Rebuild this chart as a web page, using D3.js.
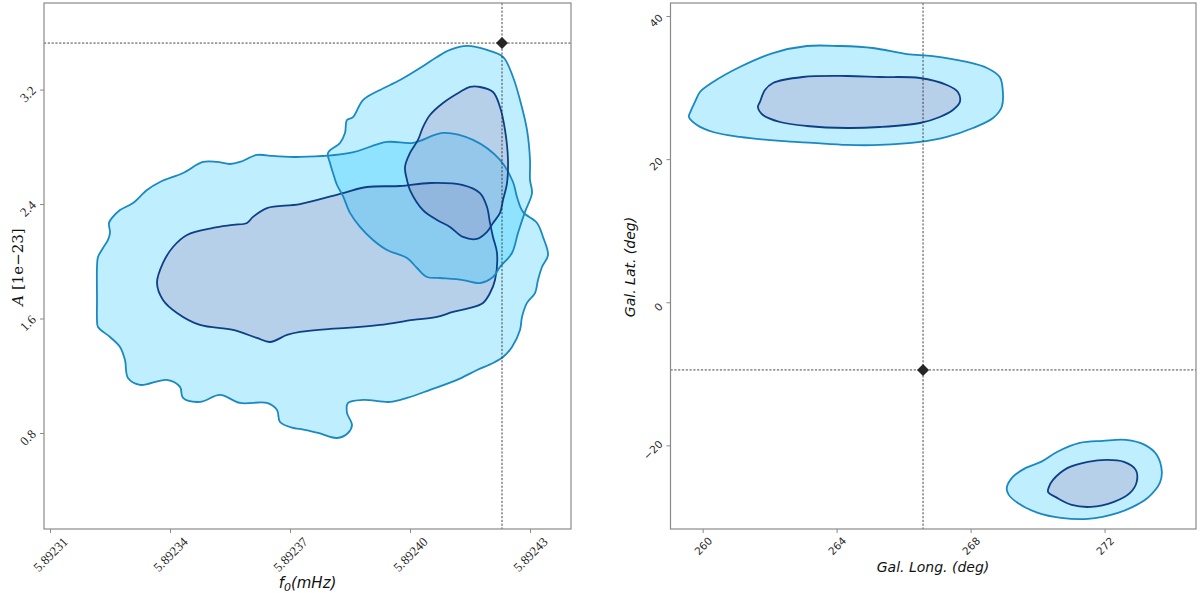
<!DOCTYPE html>
<html><head><meta charset="utf-8">
<script src="https://cdn.jsdelivr.net/npm/d3@7"></script>
<style>
html,body{margin:0;padding:0;background:#fff;}
svg{display:block;}
</style></head>
<body>
<svg id="chart" width="1200" height="593"></svg>
<script>
// ---------------- DATA ----------------
// Left panel: f0 (mHz) vs amplitude A [1e-23]
const leftXTicks = [5.89231, 5.89234, 5.89237, 5.89240, 5.89243];
const leftYTicks = [0.8, 1.6, 2.4, 3.2];
const leftTrue = [5.892423, 3.525];

const chainA_outer = [[5.89232175,1.730],[5.89232175,1.960],[5.8923220,2.030],[5.89232325,2.093],[5.8923245,2.149],[5.892325,2.198],[5.89232475,2.268],[5.8923255,2.303],[5.8923275,2.358],[5.89233075,2.407],[5.89233425,2.498],[5.8923375,2.554],[5.89234325,2.617],[5.89234825,2.694],[5.89235175,2.694],[5.892355,2.680],[5.8923575,2.694],[5.89236175,2.743],[5.89236575,2.736],[5.8923725,2.729],[5.892385,2.757],[5.89239425,2.834],[5.89240075,2.827],[5.89240825,2.897],[5.89241575,2.848],[5.8924225,2.708],[5.89242575,2.554],[5.89242675,2.449],[5.89242825,2.345],[5.89243175,2.268],[5.89243325,2.170],[5.8924345,2.044],[5.892433,1.960],[5.892432,1.869],[5.89243125,1.778],[5.89242925,1.709],[5.892428,1.611],[5.8924275,1.520],[5.8924255,1.401],[5.89242325,1.331],[5.89242075,1.289],[5.89241675,1.240],[5.89241175,1.171],[5.892405,1.101],[5.89239925,1.045],[5.892395,1.017],[5.89238825,1.031],[5.8923845,1.010],[5.89238425,0.940],[5.8923855,0.856],[5.8923845,0.800],[5.89238175,0.765],[5.892377,0.800],[5.8923725,0.828],[5.89237075,0.835],[5.8923675,0.877],[5.89236675,0.961],[5.89236425,1.010],[5.8923575,1.010],[5.8923525,1.066],[5.8923475,1.017],[5.89234325,1.045],[5.8923425,1.122],[5.89233925,1.171],[5.8923325,1.136],[5.8923295,1.184],[5.89232875,1.310],[5.8923275,1.401],[5.892325,1.471],[5.892322,1.541],[5.89232175,1.590]];

const chainA_inner = [[5.89233675,1.848],[5.89233825,1.988],[5.89234075,2.100],[5.89234425,2.184],[5.89235075,2.233],[5.89235575,2.254],[5.89235925,2.268],[5.89236075,2.310],[5.89236425,2.372],[5.8923725,2.400],[5.89238325,2.477],[5.89238925,2.519],[5.8923975,2.526],[5.892405,2.547],[5.89241325,2.533],[5.8924175,2.477],[5.89241925,2.379],[5.89242,2.268],[5.89242075,2.170],[5.89242175,2.058],[5.89242125,1.869],[5.89242,1.778],[5.89241825,1.709],[5.892415,1.674],[5.89241075,1.646],[5.89240675,1.611],[5.89240075,1.590],[5.8923925,1.555],[5.89238425,1.534],[5.89238,1.527],[5.8923725,1.506],[5.89236925,1.485],[5.892365,1.436],[5.89236175,1.464],[5.89235575,1.520],[5.8923475,1.555],[5.89234175,1.639],[5.89233825,1.730]];

const chainB_outer = [[5.89241425,3.505],[5.89241925,3.477],[5.89242325,3.428],[5.89242575,3.288],[5.8924275,3.127],[5.89242925,2.918],[5.89243,2.708],[5.89243,2.568],[5.8924305,2.477],[5.89242875,2.345],[5.892427,2.198],[5.8924255,2.058],[5.8924225,1.960],[5.89242075,1.890],[5.8924175,1.848],[5.89241325,1.869],[5.8924075,1.883],[5.89240425,1.890],[5.89240175,1.953],[5.89239925,2.023],[5.89239425,2.079],[5.89239075,2.149],[5.8923875,2.240],[5.892385,2.338],[5.89238325,2.456],[5.89238175,2.533],[5.89238075,2.617],[5.89238,2.687],[5.8923795,2.757],[5.8923825,2.827],[5.89238375,2.897],[5.89238425,2.987],[5.89238575,3.008],[5.89238825,3.127],[5.8923925,3.197],[5.8923975,3.267],[5.8924025,3.351],[5.89240675,3.428],[5.89241,3.477]];

const chainB_inner = [[5.892415,3.218],[5.8924175,3.218],[5.89242075,3.183],[5.8924225,3.078],[5.89242375,2.918],[5.8924245,2.708],[5.89242425,2.547],[5.89242325,2.428],[5.8924225,2.338],[5.89242075,2.268],[5.89241925,2.205],[5.89241675,2.156],[5.89241325,2.170],[5.89241,2.240],[5.89240675,2.289],[5.89240325,2.358],[5.8924,2.498],[5.89239925,2.568],[5.89239875,2.659],[5.8924,2.757],[5.892402,2.848],[5.89240325,2.938],[5.892405,3.022],[5.89240825,3.106],[5.8924125,3.183]];

// Right panel: galactic longitude vs latitude (deg)
const rightXTicks = [260, 264, 268, 272];
const rightYTicks = [-20, 0, 20, 40];
const rightTrue = [266.58, -9.46];

const skyUpper_outer = [[259.62,26.45],[259.77,27.99],[259.92,29.38],[260.31,30.78],[261.11,32.88],[262.10,34.83],[263.11,35.81],[264.10,35.81],[265.08,35.53],[266.10,34.69],[266.87,34.41],[267.89,33.58],[268.49,32.74],[268.87,31.48],[268.96,29.66],[268.93,27.29],[268.67,25.75],[268.07,24.35],[267.29,23.10],[266.49,22.40],[265.29,21.98],[264.31,21.98],[263.29,22.26],[262.31,22.54],[261.11,23.10],[260.31,23.79],[259.83,24.77],[259.59,25.89]];

const skyUpper_inner = [[261.71,27.99],[261.86,29.66],[262.10,30.64],[262.99,31.48],[264.31,31.62],[265.29,31.48],[266.49,31.34],[267.29,30.36],[267.62,29.38],[267.68,27.99],[267.47,26.87],[267.08,25.89],[266.49,25.05],[265.29,24.49],[264.31,24.35],[263.11,24.63],[262.31,25.19],[261.80,26.17],[261.65,27.29]];

const skyLower_outer = [[269.08,-25.95],[269.26,-24.41],[269.65,-23.15],[270.10,-22.31],[270.58,-20.92],[271.26,-19.66],[271.95,-19.38],[272.64,-19.24],[273.20,-19.94],[273.56,-21.34],[273.71,-23.71],[273.65,-25.25],[273.32,-27.20],[272.96,-28.32],[272.40,-29.44],[271.50,-30.28],[270.70,-30.14],[270.01,-29.44],[269.41,-28.04],[269.14,-26.92]];

const skyLower_inner = [[270.34,-25.81],[270.46,-24.83],[270.90,-23.15],[271.50,-22.31],[272.07,-22.03],[272.58,-22.31],[272.93,-23.43],[272.96,-25.11],[272.76,-26.65],[272.28,-27.90],[271.59,-28.60],[271.02,-28.32],[270.58,-27.34],[270.31,-26.51]];

// ---------------- STYLE ----------------
const OUTER_FILL = "rgb(0,191,255)", OUTER_OP = 0.25, OUTER_STROKE = "#1a88c2";
const INNER_FILL = "rgb(164,135,186)", INNER_OP = 0.3, INNER_STROKE = "#0e3f86";
const FRAME = "#8a8a8a";

const svg = d3.select("#chart");

function panel(cfg) {
  const g = svg.append("g");
  const x = d3.scaleLinear().domain(cfg.xDomain).range([cfg.x0, cfg.x1]);
  const y = d3.scaleLinear().domain(cfg.yDomain).range([cfg.y1, cfg.y0]);
  const line = d3.line().x(d => x(d[0])).y(d => y(d[1])).curve(d3.curveCatmullRomClosed.alpha(0.5));

  cfg.shapes.forEach(s => {
    g.append("path").attr("d", line(s.data))
      .attr("fill", s.inner ? INNER_FILL : OUTER_FILL)
      .attr("fill-opacity", s.inner ? INNER_OP : OUTER_OP)
      .attr("stroke", "none");
  });
  cfg.shapes.forEach(s => {
    g.append("path").attr("d", line(s.data))
      .attr("fill", "none")
      .attr("stroke", s.inner ? INNER_STROKE : OUTER_STROKE)
      .attr("stroke-width", 1.8)
      .attr("stroke-linejoin", "round");
  });

  g.append("line").attr("x1", cfg.x0).attr("x2", cfg.x1)
    .attr("y1", y(cfg.truth[1])).attr("y2", y(cfg.truth[1]))
    .attr("stroke", "#333").attr("stroke-width", 0.9).attr("stroke-dasharray", "2.2,1.6");
  g.append("line").attr("y1", cfg.y0).attr("y2", cfg.y1)
    .attr("x1", x(cfg.truth[0])).attr("x2", x(cfg.truth[0]))
    .attr("stroke", "#333").attr("stroke-width", 0.9).attr("stroke-dasharray", "2.2,1.6");
  g.append("path")
    .attr("d", d3.symbol().type(d3.symbolSquare).size(72)())
    .attr("transform", `translate(${x(cfg.truth[0])},${y(cfg.truth[1])}) rotate(45)`)
    .attr("fill", "#262626");

  g.append("rect").attr("x", cfg.x0).attr("y", cfg.y0)
    .attr("width", cfg.x1 - cfg.x0).attr("height", cfg.y1 - cfg.y0)
    .attr("fill", "none").attr("stroke", FRAME).attr("stroke-width", 1.2);

  const xa = g.append("g").attr("transform", `translate(0,${cfg.y1})`)
    .call(d3.axisBottom(x).tickValues(cfg.xTicks).tickSize(4).tickSizeOuter(0).tickFormat(cfg.xFmt));
  const ya = g.append("g").attr("transform", `translate(${cfg.x0},0)`)
    .call(d3.axisLeft(y).tickValues(cfg.yTicks).tickSize(4).tickSizeOuter(0).tickFormat(cfg.yFmt));
  [xa, ya].forEach(a => {
    a.select(".domain").remove();
    a.selectAll(".tick line").attr("stroke", FRAME).attr("stroke-width", 1);
    a.selectAll(".tick text")
      .attr("fill", "#2a2a2a").attr("font-family", cfg.tickFont).attr("font-size", cfg.tickSize)
      .attr("x", 0).attr("y", 0).attr("dy", null)
      .attr("text-anchor", "middle").attr("dominant-baseline", "central");
  });
  xa.selectAll(".tick text").each(function () {
    const w = this.getComputedTextLength();
    const off = 4 + 3 + (w + cfg.tickSize * 0.75) * 0.7071 / 2;
    d3.select(this).attr("transform", `translate(0,${off}) rotate(-45)`);
  });
  ya.selectAll(".tick text").each(function () {
    const w = this.getComputedTextLength();
    const off = 4 + 3 + (w + cfg.tickSize * 0.75) * 0.7071 / 2;
    d3.select(this).attr("transform", `translate(${-off},4) rotate(-45)`);
  });
  return { x, y, g };
}

panel({
  x0: 44, x1: 571, y0: 3, y1: 529,
  xDomain: [5.8923085, 5.89244025], yDomain: [0.129, 3.805],
  xTicks: leftXTicks, yTicks: leftYTicks,
  xFmt: d => d.toFixed(5), yFmt: d => d.toFixed(1),
  tickFont: "Liberation Serif", tickSize: 13,
  truth: leftTrue,
  shapes: [
    { data: chainA_outer, inner: false },
    { data: chainA_inner, inner: true },
    { data: chainB_outer, inner: false },
    { data: chainB_inner, inner: true }
  ]
});

panel({
  x0: 670.5, x1: 1196, y0: 3, y1: 529,
  xDomain: [259.04, 274.73], yDomain: [-31.69, 41.82],
  xTicks: rightXTicks, yTicks: rightYTicks,
  xFmt: d => String(d), yFmt: d => (d < 0 ? "\u2212" + Math.abs(d) : String(d)),
  tickFont: "DejaVu Sans", tickSize: 10.5,
  truth: rightTrue,
  shapes: [
    { data: skyUpper_outer, inner: false },
    { data: skyUpper_inner, inner: true },
    { data: skyLower_outer, inner: false },
    { data: skyLower_inner, inner: true }
  ]
});

const xl = svg.append("text").attr("x", 307.5).attr("y", 588)
  .attr("text-anchor", "middle").attr("font-family", "DejaVu Sans").attr("font-style", "italic")
  .attr("font-size", 15).attr("fill", "#111");
xl.append("tspan").text("f");
xl.append("tspan").attr("font-size", 11).attr("dy", 3).text("0");
xl.append("tspan").attr("dy", -3).text("(mHz)");

const yl = svg.append("text").attr("transform", "translate(23,267) rotate(-90)")
  .attr("text-anchor", "middle").attr("font-family", "DejaVu Serif")
  .attr("font-size", 15).attr("fill", "#111");
yl.append("tspan").attr("font-style", "italic").text("A");
yl.append("tspan").text(" [1e\u221223]");

svg.append("text").attr("x", 933).attr("y", 572)
  .attr("text-anchor", "middle").attr("font-family", "DejaVu Sans").attr("font-style", "italic")
  .attr("font-size", 14).attr("fill", "#111").text("Gal. Long. (deg)");

svg.append("text").attr("transform", "translate(635,267) rotate(-90)")
  .attr("text-anchor", "middle").attr("font-family", "DejaVu Sans").attr("font-style", "italic")
  .attr("font-size", 14).attr("fill", "#111").text("Gal. Lat. (deg)");
</script>
</body></html>
